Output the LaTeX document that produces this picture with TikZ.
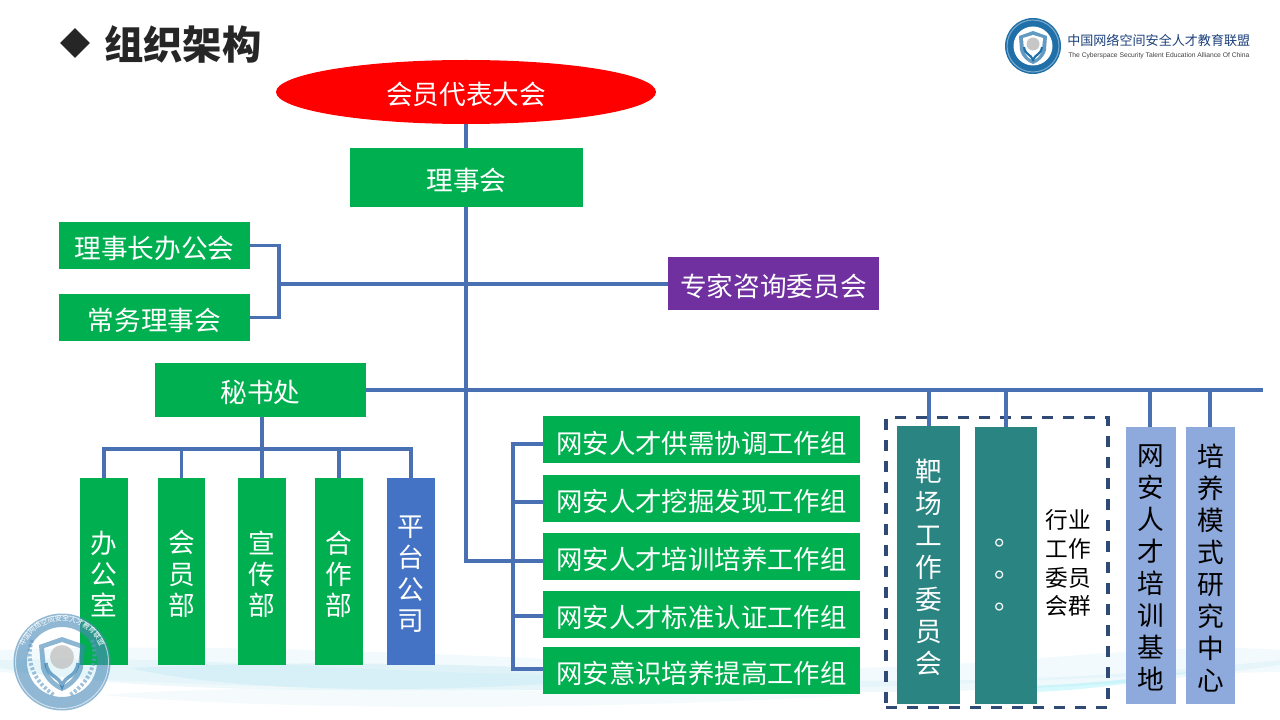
\documentclass[tikz,border=0pt]{standalone}
\usepackage{fontspec}
\setmainfont{Noto Sans CJK SC}
\newfontfamily\enfont{Liberation Sans}
\usetikzlibrary{shapes.geometric,decorations.text}
\definecolor{lnblue}{HTML}{4A70B4}
\definecolor{gr}{HTML}{00B050}
\definecolor{tealbox}{HTML}{2A8482}
\definecolor{ltblue}{HTML}{8EA9DB}
\definecolor{pltblue}{HTML}{4472C4}
\definecolor{purp}{HTML}{7030A0}
\definecolor{dashb}{HTML}{2F4A75}
\definecolor{titlec}{HTML}{262626}
\definecolor{wave}{HTML}{BFE6F2}
\definecolor{logob}{HTML}{1F6FA8}
\definecolor{logod}{HTML}{1B3F7A}
\tikzset{
  bx/.style={rectangle,inner sep=0pt,outer sep=0pt,text=white,align=center,font=\fontsize{20}{24}\selectfont},
  grn/.style={bx,fill=gr},
  hgroup/.style={grn,font=\fontsize{19.8}{24}\selectfont},
  vgreen/.style={grn,font=\fontsize{20}{23.4}\selectfont},
  vteal/.style={bx,fill=tealbox},
  vlight/.style={bx,fill=ltblue,text=black},
  conn/.style={draw=lnblue,line width=2.3pt},
  lowtext/.style={yshift=-1.9pt},
}
\newcommand{\bxn}[8][lowtext]{%
  \pgfmathsetmacro\bw{(#5-#3)*0.75}\pgfmathsetmacro\bh{(#6-#4)*0.75}%
  \node[#7,minimum width=\bw pt,minimum height=\bh pt] (#2) at ({(#3+#5)/2},{(#4+#6)/2}) {};
  \node[#7,fill=none,#1] (#2t) at ({(#3+#5)/2},{(#4+#6)/2}) {#8};}
\begin{document}
\begin{tikzpicture}[x=0.75pt,y=-0.75pt]
\useasboundingbox (0,0) rectangle (1280,720);
% background waves
\fill[wave,opacity=.18] (0,650) .. controls (300,640) and (600,665) .. (800,668) .. controls (1000,670) and (1150,640) .. (1280,650) -- (1280,672) .. controls (1100,675) and (900,690) .. (700,690) .. controls (450,690) and (200,690) .. (0,672) -- cycle;
\fill[wave,opacity=.25] (0,660) .. controls (200,655) and (350,672) .. (560,675) .. controls (800,680) and (1000,690) .. (1280,660) -- (1280,665) .. controls (1050,700) and (800,692) .. (560,690) .. controls (350,690) and (150,695) .. (0,668) -- cycle;
\fill[wave,opacity=.4] (130,668) .. controls (300,660) and (450,664) .. (545,668) -- (545,684) .. controls (450,690) and (250,696) .. (130,668) -- cycle;
\fill[wave!70!cyan,opacity=.35] (1030,686) .. controls (1080,684) and (1130,680) .. (1195,671) .. controls (1150,680) and (1100,690) .. (1030,692) -- cycle;
\fill[wave,opacity=.15] (100,695) .. controls (300,680) and (600,695) .. (860,695) .. controls (600,710) and (300,712) .. (100,695) -- cycle;
% title
\node[diamond,fill=titlec,minimum width=22.5pt,minimum height=22.5pt,inner sep=0pt] (titlemark) at (75,43) {};
\node[anchor=west,inner sep=0pt,text=titlec,font=\fontsize{29.5}{32}\selectfont\bfseries] (title) at (104,44) {组织架构};
% boxes
\node[ellipse,fill=red,draw=none,inner sep=0pt,outer sep=0pt,minimum width=285pt,minimum height=48pt] (assembly) at (466,92) {};
\node[inner sep=0pt,text=white,font=\fontsize{20}{24}\selectfont,lowtext] (assemblyt) at (466,92) {会员代表大会};
\bxn{board}{350}{148}{583}{207}{grn}{理事会}
\bxn{chair}{59}{222}{250}{269}{grn}{理事长办公会}
\bxn{standing}{59}{294}{250}{341}{grn}{常务理事会}
\bxn{expert}{668}{257}{879}{310}{bx,fill=purp}{专家咨询委员会}
\bxn{sec}{155}{363}{366}{417}{grn}{秘书处}
\bxn{d1}{80}{478}{128}{665}{vgreen}{办\\公\\室}
\bxn{d2}{158}{478}{205}{665}{vgreen}{会\\员\\部}
\bxn{d3}{238}{478}{286}{665}{vgreen}{宣\\传\\部}
\bxn{d4}{315}{478}{363}{665}{vgreen}{合\\作\\部}
\bxn{d5}{387}{478}{435}{665}{bx,fill=pltblue,font=\fontsize{20}{23.6}\selectfont}{平\\台\\公\\司}
\bxn[yshift=-2.8pt]{g1}{543}{416}{860}{463}{hgroup}{网安人才供需协调工作组}
\bxn[yshift=-2.3pt]{g2}{543}{475}{860}{522}{hgroup}{网安人才挖掘发现工作组}
\bxn[yshift=-2.3pt]{g3}{543}{533}{860}{580}{hgroup}{网安人才培训培养工作组}
\bxn[yshift=-2.3pt]{g4}{543}{591}{860}{638}{hgroup}{网安人才标准认证工作组}
\bxn[yshift=-2.3pt]{g5}{543}{647}{860}{694}{hgroup}{网安意识培养提高工作组}
\bxn{c1}{897}{426}{960}{704}{vteal}{靶\\场\\工\\作\\委\\员\\会}
\bxn[yshift=-7.5pt,xshift=1.5pt]{c2}{975}{427}{1037}{704}{vteal}{。\\。\\。}
\bxn{c3}{1126}{427}{1176}{704}{vlight}{网\\安\\人\\才\\培\\训\\基\\地}
\bxn{c4}{1186}{427}{1235}{704}{vlight}{培\\养\\模\\式\\研\\究\\中\\心}
\node[inner sep=0pt,align=center,font=\fontsize{17}{21.6}\selectfont] (industry) at (1068,563) {行业\\工作\\委员\\会群};
\node[draw=dashb,line width=2.3pt,dash pattern=on 8.25pt off 7.5pt,inner sep=0pt,minimum width=166.5pt,minimum height=217.5pt] (cluster) at (997,562.5) {};
% junctions
\coordinate (jmid) at (466,284);
\coordinate (jbus) at (466,390);
\coordinate (jgrp) at (466,561);
\coordinate (jbar) at (513,561);
\coordinate (jright) at (1263,390);
\coordinate (jleft) at (279,284);
\coordinate (jsec) at (262,449);
\coordinate (s1) at (513,444);
\coordinate (s2) at (513,502);
\coordinate (s4) at (513,616);
\coordinate (s5) at (513,669);
% connectors
\draw[conn] (assembly.south -| jmid) -- (board.north -| jmid);
\draw[conn] (board.south -| jmid) -- (jmid) -- (jbus) -- (jgrp) -- (jbar);
\draw[conn] (jleft) -- (jmid |- jleft) -- (expert.west |- jleft);
\draw[conn] (chair.east) -| (jleft) |- (standing.east);
\draw[conn] (sec.east |- jbus) -- (jright);
\draw[conn] (sec.south -| jsec) -- (jsec) -- (d3.north);
\draw[conn] (d1.north) |- (jsec) -| (d5.north);
\draw[conn] (d2.north) -- (d2.north |- jsec);
\draw[conn] (d4.north) -- (d4.north |- jsec);
\draw[conn] (s1 -| g1.west) -- (s1) -- (s5) -- (s5 -| g5.west);
\draw[conn] (s2) -- (s2 -| g2.west);
\draw[conn] (jbar) -- (jbar -| g3.west);
\draw[conn] (s4) -- (s4 -| g4.west);
\foreach \n/\xx in {c1/929,c2/1006,c3/1150,c4/1210}{
  \draw[conn] (\xx,390) -- (\xx,0 |- \n.north);
}
% top-right logo
\fill[logob] (1033,46) circle[radius=28];
\fill[white] (1033,46) circle[radius=19.5];
\draw[logob!60,line width=.8pt] (1033,46) circle[radius=26];
\fill[logob!70] (1033,31) -- (1047,36) -- (1046,50) .. controls (1044,58) and (1038,62) .. (1033,64) .. controls (1028,62) and (1022,58) .. (1020,50) -- (1019,36) -- cycle;
\fill[white] (1033,35) -- (1043,38) -- (1042,50) .. controls (1040,56) and (1037,59) .. (1033,60) .. controls (1029,59) and (1026,56) .. (1024,50) -- (1023,38) -- cycle;
\fill[gray!45] (1033,44) circle[radius=6.5];
\draw[logob,line width=1.6pt] (1024,47) .. controls (1025,55) and (1031,54) .. (1033,60) .. controls (1035,54) and (1041,55) .. (1042,47);
\node[anchor=west,inner sep=0pt,text=logod,font=\fontsize{9.8}{12}\selectfont] (logocn) at (1067,41) {中国网络空间安全人才教育联盟};
\node[anchor=west,inner sep=0pt,text=black!75,font=\enfont\fontsize{5.05}{8}\selectfont] (logoen) at (1068,56) {The Cyberspace Security Talent Education Alliance Of China};
% bottom-left watermark logo: no white fills, so what lies under it shows through
\fill[logob!80,opacity=.62,even odd rule] (62,662) circle[radius=48.5] (62,662) circle[radius=35];
\draw[white,opacity=.6,line width=.7pt] (62,662) circle[radius=46.5];
\fill[logob!85,opacity=.6,even odd rule] (62,637) -- (85,645) -- (83,668) .. controls (80,680) and (70,688) .. (62,691) .. controls (54,688) and (44,680) .. (41,668) -- (39,645) -- cycle
  (62,642) -- (80,648) -- (78,668) .. controls (75,677) and (68,683) .. (62,686) .. controls (56,683) and (49,677) .. (46,668) -- (44,648) -- cycle;
\fill[gray!50,opacity=.75] (62,657) circle[radius=12];
\draw[logob,opacity=.6,line width=2.6pt] (46,663) .. controls (48,678) and (59,675) .. (62,686) .. controls (65,675) and (76,678) .. (78,663);
\foreach \s in {1,-1}{
  \draw[logob!70,opacity=.6,line width=3pt,dash pattern=on 2pt off 1.5pt] ({62+\s*30},640) .. controls ({62+\s*37},660) and ({62+\s*28},682) .. ({62+\s*8},695);
}
\path[postaction={decorate,decoration={text along path,text align=center,text={|\fontsize{5.2}{6}\selectfont\color{white}|中国网络空间安全人才教育联盟}}}] (22.4,651.4) arc[start angle=195,end angle=345,radius=41];
\end{tikzpicture}
\end{document}
